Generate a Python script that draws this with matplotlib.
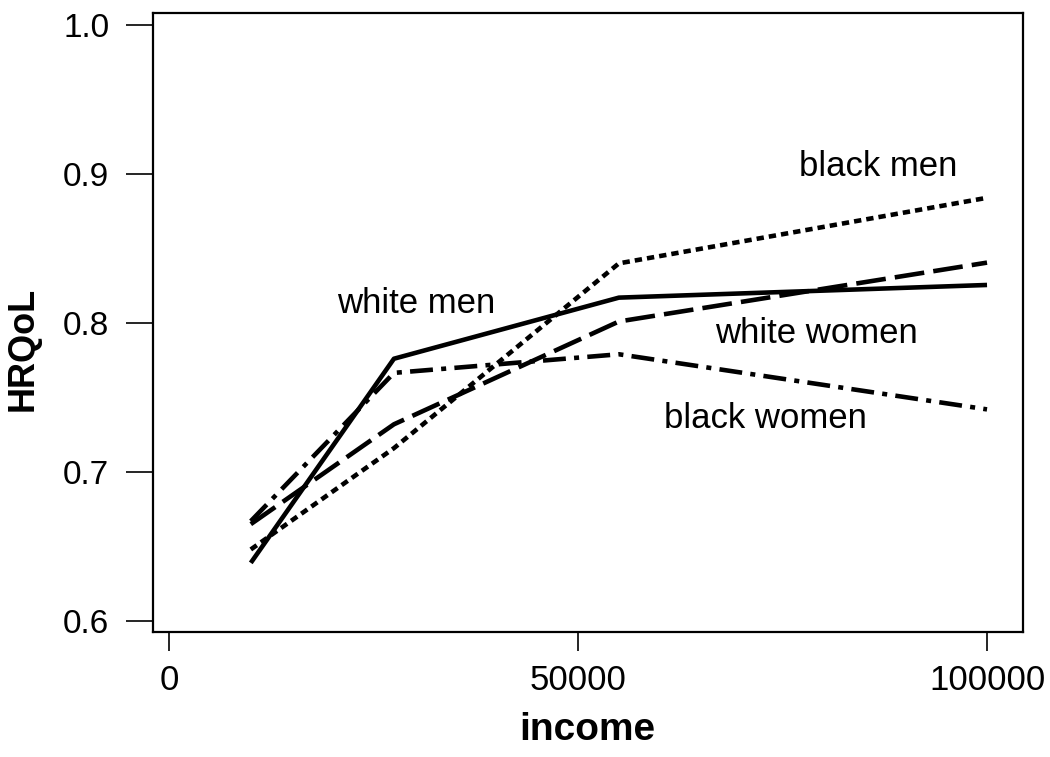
import matplotlib
matplotlib.use("Agg")
import matplotlib.pyplot as plt

plt.rcParams['font.family'] = ['Liberation Sans', 'DejaVu Sans']

# income points shared by all four groups
income = [10000, 27500, 55000, 100000]

white_men = [0.639, 0.776, 0.817, 0.8255]
black_men = [0.648, 0.716, 0.840, 0.884]
white_women = [0.665, 0.732, 0.801, 0.8405]
black_women = [0.667, 0.7665, 0.779, 0.742]

group_names = ["white men", "black men", "white women", "black women"]
label_x = [30200, 86700, 79200, 72900]
label_y = [0.8128, 0.905, 0.7926, 0.7356]

x_ticks = [0, 50000, 100000]
y_ticks = [0.6, 0.7, 0.8, 0.9, 1.0]

fig = plt.figure(figsize=(10.5, 7.57), dpi=100)
ax = fig.add_axes([0.1457, 0.1651, 0.8286, 0.8177])

lw = 3.3
ax.plot(income, white_men, color="black", lw=lw, solid_capstyle="butt")
ax.plot(income, black_men, color="black", lw=lw, linestyle=(0, (1.6, 1.1)),
        dash_capstyle="butt")
ax.plot(income, white_women, color="black", lw=lw, linestyle=(0, (6.5, 2)),
        dash_capstyle="butt")
ax.plot(income, black_women, color="black", lw=lw,
        linestyle=(0, (5, 1.8, 1.1, 1.8)), dash_capstyle="butt")

for name, tx, ty in zip(group_names, label_x, label_y):
    ax.text(tx, ty, name, fontsize=25, ha="center", va="center")

ax.set_xlim(-1956, 104400)
ax.set_ylim(0.5926, 1.008)
ax.set_xticks(x_ticks)
ax.set_xticklabels([str(v) for v in x_ticks])
ax.set_yticks(y_ticks)
ax.set_yticklabels(["%.1f" % v for v in y_ticks])

for s in ax.spines.values():
    s.set_linewidth(1.6)
ax.tick_params(axis="x", direction="out", length=13.7, width=1.2,
               labelsize=25, pad=9)
ax.tick_params(axis="y", direction="out", length=19.4, width=1.2,
               labelsize=24, pad=12)

ax.set_xlabel("income", fontsize=28, fontweight="bold", va="baseline")
ax.xaxis.set_label_coords(0.499, -0.1745)
ax.set_ylabel("HRQoL", fontsize=26, fontweight="bold", va="center")
ax.yaxis.set_label_coords(-0.1494, 0.457)

fig.savefig("out.png", dpi=100)
